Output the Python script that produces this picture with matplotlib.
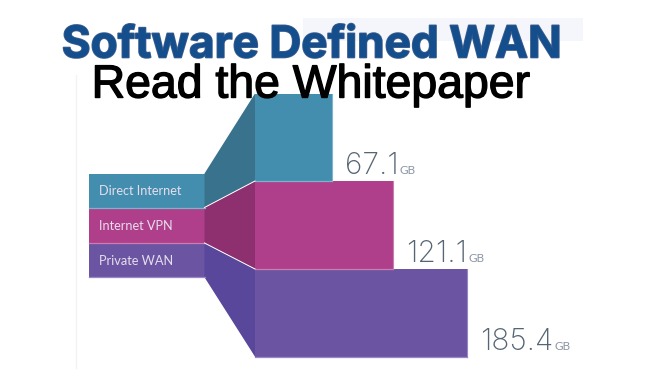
import matplotlib
matplotlib.use("Agg")
import matplotlib.pyplot as plt
import matplotlib.patheffects as pe
from matplotlib.patches import Polygon, Rectangle

categories = ["Direct Internet", "Internet VPN", "Private WAN"]
values = [67.1, 121.1, 185.4]
value_labels = ["67.1", "121.1", "185.4"]
unit = "GB"
title = "Software Defined WAN"
subtitle = "Read the Whitepaper"

bar_colors = ["#438EAE", "#B03F8B", "#6B55A3"]
dark_colors = ["#38728C", "#8E3070", "#59479C"]
edge_colors = ["#7FB3C9", "#CB7DB2", "#9A86C6"]

PX_PER_GB = 1.143
W, H = 658, 385
left_x0, left_x1, right_x0 = 89, 204.5, 255
left_edges = [173.5, 207.5, 243, 277.3]
right_edges = [93.5, 181, 269, 356.7]

fig = plt.figure(figsize=(W / 100, H / 100), dpi=100, facecolor="white")
ax = fig.add_axes([0, 0, 1, 1])
ax.set_xlim(0, W)
ax.set_ylim(H, 0)
ax.axis("off")

ax.add_patch(Rectangle((303, 18), 280, 22.5, fc="#F4F6FB", ec="none", zorder=0))
ax.plot([75.5, 75.5], [75, 368], color="#F3F3F5", lw=1, zorder=0)

for i, (cat, val) in enumerate(zip(categories, values)):
    lt, lb = left_edges[i], left_edges[i + 1]
    rt, rb = right_edges[i], right_edges[i + 1]
    ax.barh((lt + lb) / 2, left_x1 - left_x0, left=left_x0, height=lb - lt,
            color=bar_colors[i], zorder=2)
    ax.barh((rt + rb) / 2, val * PX_PER_GB, left=right_x0, height=rb - rt,
            color=bar_colors[i], zorder=2)
    ax.add_patch(Polygon([(left_x1, lt), (right_x0, rt), (right_x0, rb), (left_x1, lb)],
                         closed=True, fc=dark_colors[i], ec="none", zorder=2))
    ax.plot([left_x0, left_x1], [lb, lb], color=edge_colors[i], lw=0.9, zorder=3)
    ax.plot([right_x0, right_x0 + val * PX_PER_GB], [rb, rb], color=edge_colors[i], lw=0.9, zorder=3)
    ax.plot([right_x0 + val * PX_PER_GB] * 2, [rt, rb], color=edge_colors[i], lw=0.8, zorder=3)
    if i < 2:
        ax.plot([left_x1, right_x0], [lb, rb], color="white", lw=0.7, zorder=4)
    ax.text(99, (lt + lb) / 2 + 0.5, cat, color="#E6DDEC", fontsize=9.2,
            family="Lato", ha="left", va="center", zorder=5)
    end = right_x0 + val * PX_PER_GB
    t = ax.text(end + 13, rb - 7, value_labels[i], color="#566574", fontsize=21.5,
                family="Inter", fontweight="light", ha="left", va="baseline", zorder=5)
    fig.canvas.draw()
    bb = t.get_window_extent()
    ax.text(bb.x1 + 1, rb - 7, unit, color="#8A95A3", fontsize=8.5,
            family="Lato", ha="left", va="baseline", zorder=5)

stroke_t = [pe.withStroke(linewidth=1.2, foreground="#3F5F8C")]
ax.text(311.5, 57.5, title, color="#144E8C", fontsize=31.8, family="Inter",
        fontweight="bold", ha="center", va="baseline", zorder=6, path_effects=stroke_t)
stroke_s = [pe.withStroke(linewidth=1.0, foreground="black")]
ax.text(311, 97.5, subtitle, color="black", fontsize=33.4, family="Liberation Sans",
        ha="center", va="baseline", zorder=6, path_effects=stroke_s)

fig.savefig("out.png", dpi=100, facecolor="white")
